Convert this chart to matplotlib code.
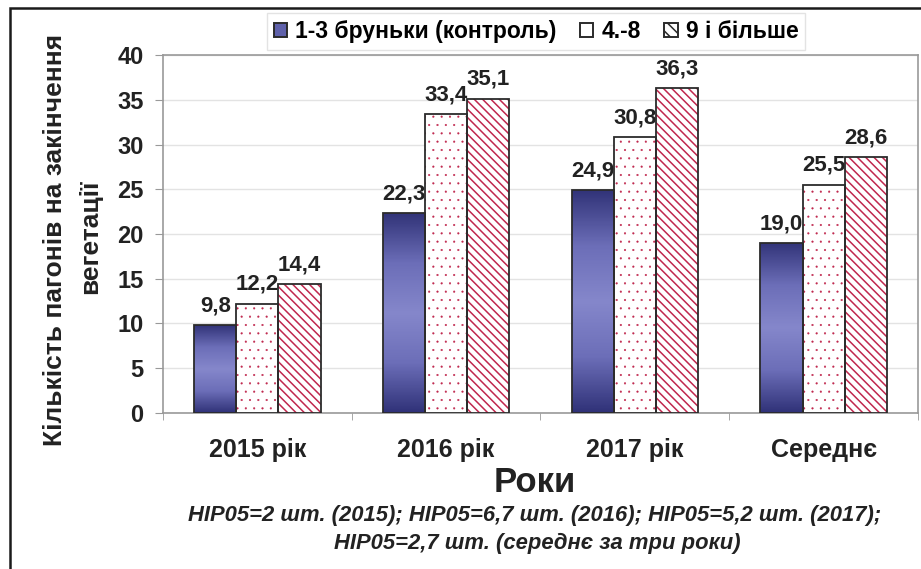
import numpy as np
import matplotlib
matplotlib.use("Agg")
import matplotlib.pyplot as plt
from matplotlib.patches import Patch, Rectangle
from matplotlib.colors import LinearSegmentedColormap

plt.rcParams["font.family"] = ["Liberation Sans", "DejaVu Sans"]

# data
categories = ["2015 рік", "2016 рік", "2017 рік", "Середнє"]
series_names = ["1-3 бруньки (контроль)", "4.-8", "9 і більше"]
buds_1_3 = [9.8, 22.3, 24.9, 19.0]
buds_4_8 = [12.2, 33.4, 30.8, 25.5]
buds_9 = [14.4, 35.1, 36.3, 28.6]
y_ticks = [0, 5, 10, 15, 20, 25, 30, 35, 40]

note_1 = "НІР05=2 шт. (2015); НІР05=6,7 шт. (2016); НІР05=5,2 шт. (2017);"
note_2 = "НІР05=2,7 шт. (середнє за три роки)"

RED = "#C0284E"
EDGE = "#2b2b2b"
TXT = "#222222"
grad = LinearSegmentedColormap.from_list(
    "navy", ["#303278", "#6C6EB8", "#8587CB", "#6C6EB8", "#323479"])


def label(ax, x, v):
    ax.text(x, v + 1.0, f"{v:.1f}".replace(".", ","), ha="center", va="bottom",
            fontsize=16, fontweight="bold", color=TXT)


fig = plt.figure(figsize=(9.21, 5.69), dpi=100)
ax = fig.add_axes([0.177, 0.2742, 0.8197, 0.6291])

x = np.arange(len(categories))
w = 0.223

for i, v in enumerate(buds_1_3):
    xc = x[i] - w
    bar = ax.bar(xc, v, w, color="none", edgecolor=EDGE, linewidth=1.3, zorder=4)[0]
    img = ax.imshow(np.linspace(1, 0, 200).reshape(-1, 1), cmap=grad, aspect="auto",
                    extent=[xc - w / 2, xc + w / 2, 0, v], zorder=3)
    img.set_clip_path(bar)
    label(ax, xc, v)

plt.rcParams["hatch.linewidth"] = 0.3
for i, v in enumerate(buds_4_8):
    xc = x[i]
    ax.bar(xc, v, w, color="white", edgecolor=RED, hatch="..", linewidth=0, zorder=3)
    ax.bar(xc, v, w, color="none", edgecolor=EDGE, linewidth=1.3, zorder=4)
    label(ax, xc, v)

plt.rcParams["hatch.linewidth"] = 1.1
for i, v in enumerate(buds_9):
    xc = x[i] + w
    ax.bar(xc, v, w, color="white", edgecolor=RED, hatch="\\\\\\\\", linewidth=0, zorder=3)
    ax.bar(xc, v, w, color="none", edgecolor=EDGE, linewidth=1.3, zorder=4)
    label(ax, xc, v)

ax.set_xlim(-0.5, len(categories) - 0.5)
ax.set_ylim(0, 40)
ax.set_yticks(y_ticks)
ax.set_yticklabels([str(t) for t in y_ticks], fontsize=17, fontweight="bold", color=TXT)
ax.set_xticks(x)
ax.set_xticklabels(categories, fontsize=18, fontweight="bold", color=TXT)
ax.set_xticks(np.arange(-0.5, len(categories)), minor=True)
ax.tick_params(axis="x", which="major", length=0, pad=18)
ax.tick_params(axis="x", which="minor", length=5, color="#999999")
ax.tick_params(axis="y", length=6, color="#999999", pad=8)
ax.grid(axis="y", color="#e3e3e3", linewidth=1, zorder=0)
ax.set_axisbelow(True)
for s in ax.spines.values():
    s.set_color("#999999")
    s.set_linewidth(1.2)

fig.text(535 / 921, 1 - 482 / 569, "Роки", ha="center", va="center",
         fontsize=25, fontweight="bold", color=TXT)
fig.text(535 / 921, 1 - 516 / 569, note_1, ha="center", va="center",
         fontsize=15.8, fontweight="bold", style="italic", color=TXT)
fig.text(537 / 921, 1 - 543 / 569, note_2, ha="center", va="center",
         fontsize=15.8, fontweight="bold", style="italic", color=TXT)

fig.text(55 / 921, 1 - 240 / 569, "Кількість пагонів на закінчення", rotation=90,
         ha="center", va="center", fontsize=19, fontweight="bold", color=TXT)
fig.text(90 / 921, 1 - 237 / 569, "вегетації", rotation=90,
         ha="center", va="center", fontsize=19, fontweight="bold", color=TXT)

handles = [
    Patch(facecolor="#5F61AA", edgecolor=EDGE, linewidth=1.4),
    Patch(facecolor="white", edgecolor=EDGE, linewidth=1.4),
    Patch(facecolor="white", edgecolor=EDGE, hatch="\\\\\\", linewidth=1.4),
]
leg = fig.legend(handles, series_names, loc="center", bbox_to_anchor=(536 / 921, 1 - 31.5 / 569),
                 ncol=3, frameon=True, fancybox=False, edgecolor="#dddddd",
                 prop={"weight": "bold", "size": 16.5}, handlelength=0.6, handleheight=0.6,
                 handletextpad=0.35, columnspacing=1.0, borderpad=0.3)

fig.patches.append(Rectangle((10 / 921, -0.1), 1.2, 1 - 8 / 569 + 0.1, transform=fig.transFigure,
                             fill=False, edgecolor="#1a1a1a", linewidth=1.8))

fig.savefig("out.png", dpi=100)
